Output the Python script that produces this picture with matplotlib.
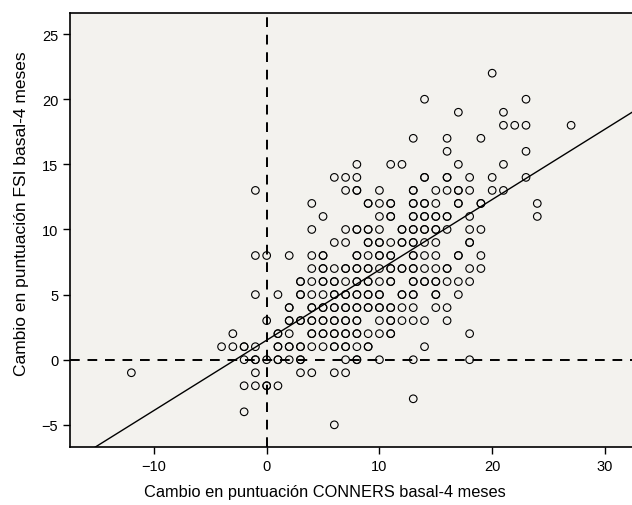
import numpy as np
import matplotlib
matplotlib.use('Agg')
import matplotlib.pyplot as plt

plt.rcParams['font.family'] = ['Liberation Sans', 'DejaVu Sans']

# FSI change (rows) and the CONNERS changes found on each row.
# repeated x values = overlapping cases (drawn bolder in the original)
fsi_rows = [22, 20, 19, 18, 17, 16, 15, 14, 13, 12, 11, 10, 9, 8, 7, 6, 5, 4, 3, 2, 1, 0, -1, -2, -3, -4, -5]
conners_rows = [
    [20],
    [14, 23],
    [17, 21],
    [21, 22, 23, 27],
    [13, 16, 19],
    [16, 23],
    [8, 11, 12, 17, 21],
    [6, 7, 8, 14, 14, 16, 16, 18, 20, 23],
    [-1, 7, 8, 8, 10, 13, 13, 15, 16, 17, 17, 18, 20, 21],
    [4, 9, 9, 10, 11, 11, 13, 13, 14, 14, 15, 17, 17, 19, 19, 24],
    [5, 10, 11, 11, 13, 13, 14, 14, 15, 15, 16, 16, 18, 24],
    [4, 7, 8, 8, 9, 9, 10, 12, 12, 13, 13, 14, 14, 15, 15, 16, 18, 19],
    [6, 7, 9, 9, 10, 10, 11, 12, 12, 13, 13, 14, 15, 18, 18],
    [-1, 0, 2, 4, 5, 5, 8, 8, 9, 10, 10, 11, 11, 13, 13, 14, 15, 17, 17, 19],
    [4, 5, 5, 6, 7, 7, 8, 8, 9, 9, 10, 11, 11, 12, 12, 13, 13, 14, 15, 16, 16, 18, 19],
    [3, 3, 4, 5, 5, 6, 6, 7, 8, 8, 9, 9, 10, 11, 11, 13, 13, 14, 14, 15, 15, 16, 17, 18],
    [-1, 1, 3, 3, 4, 5, 6, 6, 7, 7, 8, 8, 9, 9, 10, 10, 12, 12, 13, 13, 15, 15, 17],
    [2, 2, 4, 4, 5, 5, 6, 6, 7, 7, 8, 8, 9, 9, 10, 10, 11, 11, 12, 13, 15, 16],
    [0, 2, 2, 3, 3, 4, 4, 5, 5, 6, 6, 7, 7, 8, 8, 10, 11, 11, 12, 13, 14, 16],
    [-3, 1, 1, 2, 4, 4, 5, 5, 6, 6, 7, 7, 8, 8, 9, 10, 11, 11, 18],
    [-4, -3, -2, -2, -1, 1, 1, 2, 2, 3, 3, 4, 5, 6, 6, 7, 7, 8, 9, 9, 14],
    [-2, -1, -1, 0, 1, 1, 2, 3, 3, 7, 8, 8, 10, 13, 18],
    [-12, -1, 3, 4, 6, 7],
    [-2, -1, 0, 0, 1],
    [13],
    [-2],
    [6],
]

# fitted line
fit_intercept = 1.5
fit_slope = 0.54

x = np.concatenate([np.array(r, dtype=float) for r in conners_rows])
y = np.concatenate([np.full(len(r), v, dtype=float) for r, v in zip(conners_rows, fsi_rows)])

fig = plt.figure(figsize=(6.32, 5.06), dpi=100)
ax = fig.add_axes([0.1108, 0.1152, 0.8892, 0.8581])
ax.set_facecolor('#f3f2ee')

xlim = (-17.44, 32.4)
ylim = (-6.68, 26.66)

ax.axvline(0, color='black', linestyle=(0, (5, 4)), linewidth=1.4, zorder=1)
ax.axhline(0, color='black', linestyle=(0, (5, 4)), linewidth=1.4, zorder=1)

xl = np.array(xlim)
ax.plot(xl, fit_intercept + fit_slope * xl, color='black', linewidth=1.0, zorder=2)

ax.scatter(x, y, s=30, facecolors='none', edgecolors='black', linewidths=0.8, zorder=3)

ax.set_xlim(*xlim)
ax.set_ylim(*ylim)
ax.set_xticks([-10, 0, 10, 20, 30])
ax.set_yticks([-5, 0, 5, 10, 15, 20, 25])
ax.set_xticklabels(['\u221210', '0', '10', '20', '30'])
ax.set_yticklabels(['\u22125', '0', '5', '10', '15', '20', '25'])
ax.tick_params(direction='out', length=5, width=1, labelsize=10.5, colors='black')
ax.spines['right'].set_visible(False)
for s in ['left', 'top', 'bottom']:
    ax.spines[s].set_linewidth(1.2)

ax.set_xlabel('Cambio en puntuación CONNERS basal-4 meses', fontsize=11.8, labelpad=9)
ax.xaxis.set_label_coords(0.454, -0.085)
ax.set_ylabel('Cambio en puntuación FSI basal-4 meses', fontsize=12.5, labelpad=9)
ax.yaxis.set_label_coords(-0.073, 0.54)

fig.savefig('out.png', dpi=100)
